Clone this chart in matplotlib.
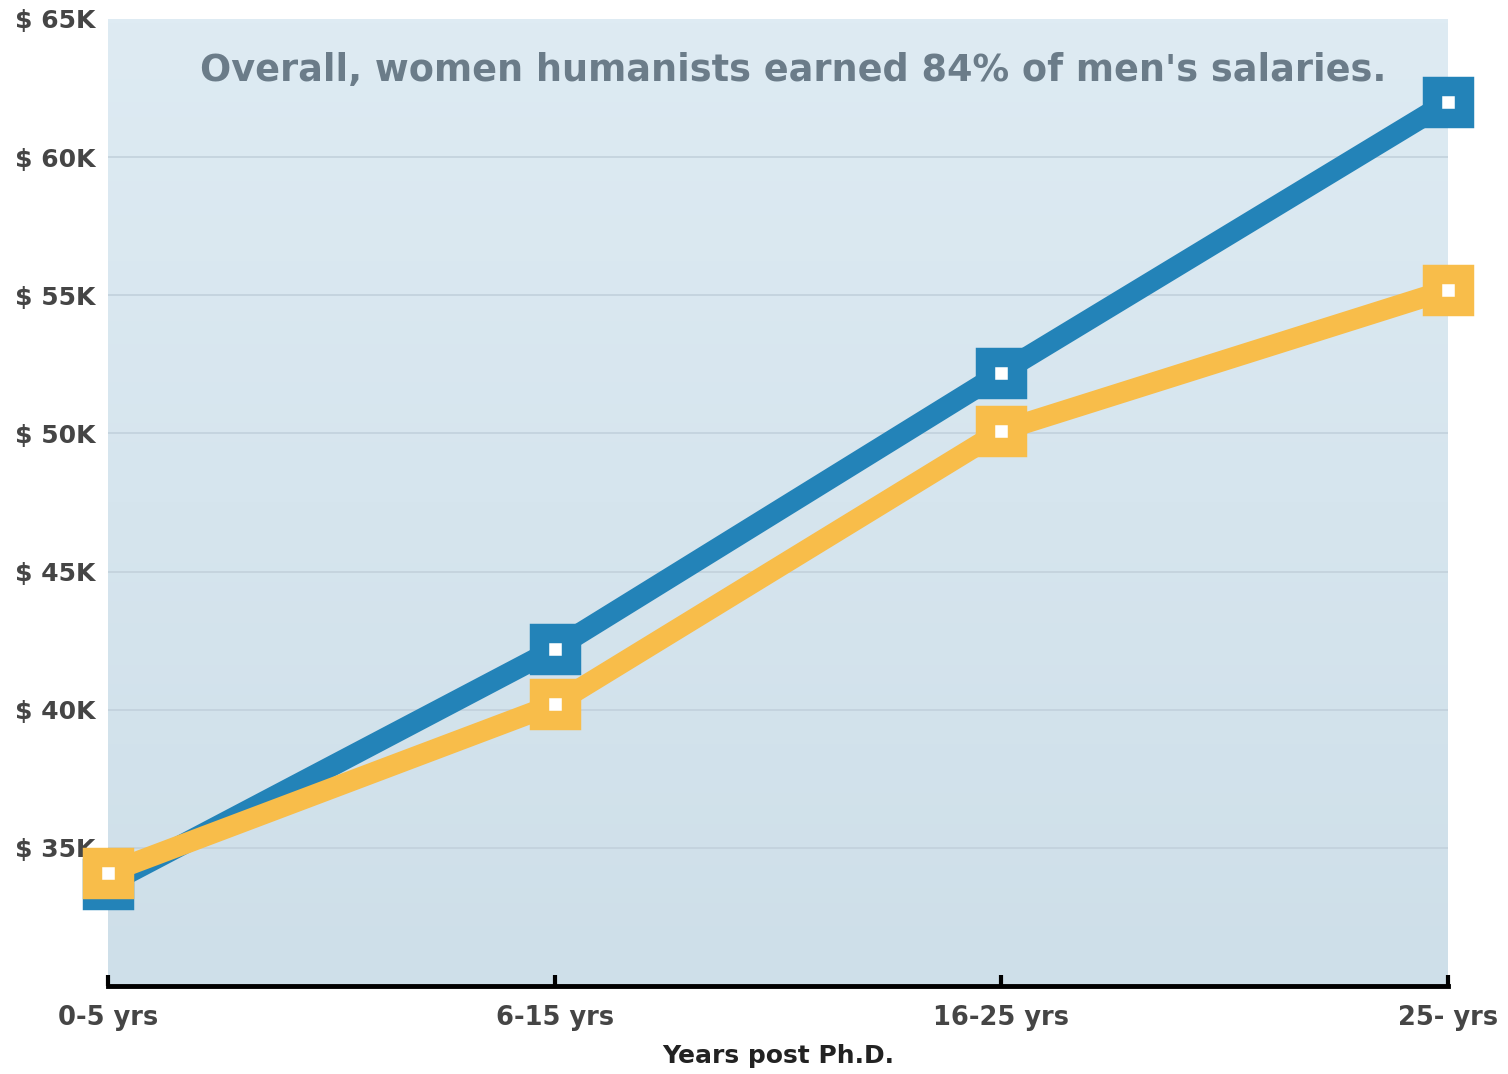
import numpy as np
import matplotlib
matplotlib.use("Agg")
import matplotlib.pyplot as plt

# salary by years since PhD
periods = ["0-5 yrs", "6-15 yrs", "16-25 yrs", "25- yrs"]
men = [33700, 42200, 52200, 62000]
women = [34100, 40200, 50100, 55200]
yticks = [35000, 40000, 45000, 50000, 55000, 60000, 65000]
ytick_labels = ["$ 35K", "$ 40K", "$ 45K", "$ 50K", "$ 55K", "$ 60K", "$ 65K"]

blue = "#2383b8"
yellow = "#f8bd4a"

plt.rcParams["font.family"] = "DejaVu Sans"
plt.rcParams["font.weight"] = "bold"

fig = plt.figure(figsize=(15.08, 10.74), dpi=100, facecolor="white")
ax = fig.add_axes([108 / 1508, 1 - 986 / 1074, 1340 / 1508, 967 / 1074])

x = np.arange(len(periods))
ax.set_xlim(0, len(periods) - 1)
ax.set_ylim(30000, 65000)

# soft vertical gradient for the plot area
grad = np.linspace(0, 1, 256).reshape(-1, 1)
top_c = np.array([0xde, 0xeb, 0xf3]) / 255
bot_c = np.array([0xce, 0xdf, 0xe9]) / 255
img = top_c * (1 - grad)[..., None] + bot_c * grad[..., None]
ax.imshow(img, extent=[0, len(periods) - 1, 30000, 65000], aspect="auto",
          origin="upper", zorder=0)

for yv in yticks[:-1]:
    ax.axhline(yv, color="#c2d1dc", lw=1.2, zorder=1)

style = dict(lw=15, marker="s", ms=23, mew=14, mfc="white",
             solid_joinstyle="miter", clip_on=False, zorder=2)
ax.plot(x, men, color=blue, mec=blue, **style)
ax.plot(x, women, color=yellow, mec=yellow, **style)

ax.set_yticks(yticks)
ax.set_yticklabels(ytick_labels, fontsize=18, color="#454545", fontweight="bold")
ax.tick_params(axis="y", length=0, pad=9)
ax.set_xticks(x)
ax.set_xticklabels(periods, fontsize=18.5, color="#454545", fontweight="bold")
ax.tick_params(axis="x", direction="in", length=8, width=3, color="black", pad=14)
ax.set_xlabel("Years post Ph.D.", fontsize=18, color="#222222",
              fontweight="bold", labelpad=9)

for side in ["left", "right", "top"]:
    ax.spines[side].set_visible(False)
ax.spines["bottom"].set_linewidth(3.5)
ax.spines["bottom"].set_color("black")

ax.text(0.511, 0.947, "Overall, women humanists earned 84% of men's salaries.",
        transform=ax.transAxes, ha="center", va="center", fontsize=26.4,
        fontweight="bold", color="#6b7c89")

fig.savefig("out.png", dpi=100)
